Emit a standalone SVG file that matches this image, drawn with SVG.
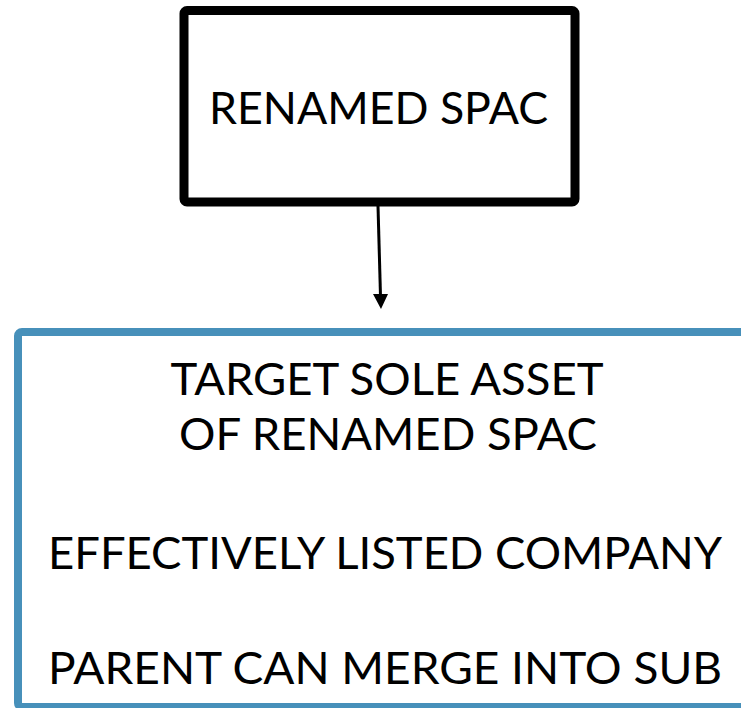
<svg xmlns="http://www.w3.org/2000/svg" width="741" height="708" viewBox="0 0 741 708">
  <defs>
    <style>
      .lbl { font-family: Lato, "Open Sans", "Liberation Sans", sans-serif; font-size: 44px; fill: #000; text-anchor: middle; }
      .box-top { fill: #fff; stroke: #000; stroke-width: 9; }
      .box-bottom { fill: #fff; stroke: #4790BA; stroke-width: 8; }
      .edge { stroke: #000; stroke-width: 3; fill: none; }
    </style>
    <marker id="arrowhead" markerWidth="16" markerHeight="16" viewBox="0 0 16 16" refX="8" refY="15" orient="auto-start-reverse" markerUnits="userSpaceOnUse">
      <path d="M0,0 L16,0 L8,15 Z" fill="#000"/>
    </marker>
  </defs>
  <rect width="741" height="708" fill="#fff"/>

  <g id="renamed-spac">
    <rect class="box-top" x="184" y="10.5" width="391" height="191.5" rx="3"/>
    <text class="lbl" x="378.5" y="124" textLength="339" lengthAdjust="spacingAndGlyphs">RENAMED SPAC</text>
  </g>

  <g id="target">
    <rect class="box-bottom" x="18" y="332" width="740" height="375" rx="4"/>
    <text class="lbl" x="387" y="395" textLength="433" lengthAdjust="spacingAndGlyphs">TARGET SOLE ASSET</text>
    <text class="lbl" x="388" y="450" textLength="418" lengthAdjust="spacingAndGlyphs">OF RENAMED SPAC</text>
    <text class="lbl" x="385" y="569" textLength="674" lengthAdjust="spacingAndGlyphs">EFFECTIVELY LISTED COMPANY</text>
    <text class="lbl" x="385" y="684" textLength="674" lengthAdjust="spacingAndGlyphs">PARENT CAN MERGE INTO SUB</text>
  </g>

  <g id="connectors">
    <line class="edge" x1="378" y1="206" x2="380.5" y2="296"/>
    <path d="M373,294 L388,294 L381,309 Z" fill="#000"/>
  </g>
</svg>
